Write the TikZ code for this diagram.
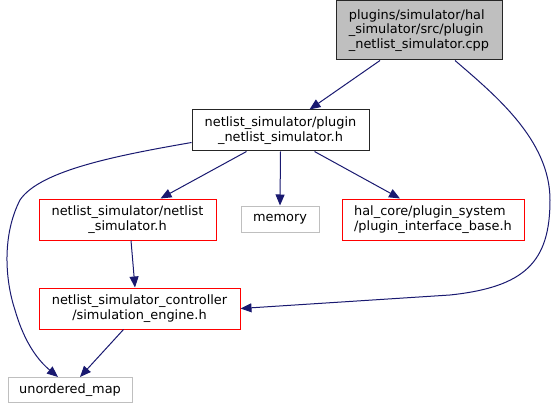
\documentclass[tikz,border=0pt]{standalone}
\usepackage{fontspec}
\setmainfont{DejaVu Sans}
\usetikzlibrary{arrows.meta,calc}
\definecolor{edgeblue}{HTML}{191970}
\definecolor{boxgrey}{HTML}{BFBFBF}
\begin{document}
\begin{tikzpicture}[x=1pt,y=-1pt,
  every node/.style={font=\fontsize{12.9}{14.3}\selectfont, inner sep=0pt, text=black},
  blackbox/.style={draw=black!85, line width=1pt, fill=white},
  redbox/.style={draw=red, line width=1pt, fill=white},
  greybox/.style={draw=boxgrey, line width=1pt, fill=white},
  edge/.style={draw=edgeblue, line width=1pt, -{Triangle[length=11pt,width=9pt]}, color=edgeblue}]
\useasboundingbox (0,0) rectangle (557,409);

\node[blackbox, fill=boxgrey, minimum width=166pt, minimum height=59pt, align=left] (top) at (419,30.5)
  {plugins/simulator/hal\\\_simulator/src/plugin\\\_netlist\_simulator.cpp};
\node[blackbox, minimum width=177pt, minimum height=41pt, align=center] (plug) at (280.5,130.5)
  {netlist\_simulator/plugin\\\_netlist\_simulator.h};
\node[redbox, minimum width=177pt, minimum height=41pt, align=center] (nsim) at (127.5,219.5)
  {netlist\_simulator/netlist\\\_simulator.h};
\node[greybox, minimum width=78pt, minimum height=26pt] (mem) at (280,219) {memory};
\node[redbox, minimum width=182pt, minimum height=41pt, align=left] (hal) at (433,219.5)
  {hal\_core/plugin\_system\\/plugin\_interface\_base.h};
\node[redbox, minimum width=201pt, minimum height=41pt, align=center] (eng) at (139.5,308.5)
  {netlist\_simulator\_controller\\/simulation\_engine.h};
\node[greybox, minimum width=124pt, minimum height=25pt] (umap) at (70,390) {unordered\_map};

\draw[edge] ($(top.south)+(-39,0)$) -- ($(plug.north)+(29,0)$);
\draw[edge] ($(top.south)+(36,0)$) .. controls (495,95) and (550,140) .. (550,200)
  .. controls (550,262) and (525,287) .. (450,295) -- (eng.east);
\draw[edge] ($(plug.west)+(0,12)$) .. controls (120,155) and (40,170) .. (20,200)
  .. controls (2,235) and (5,280) .. (15,310) .. controls (25,345) and (40,362) .. ($(umap.north)+(-12,0)$);
\draw[edge] ($(plug.south)+(-34,0)$) -- ($(nsim.north)+(33,0)$);
\draw[edge] (plug.south) -- (mem.north);
\draw[edge] ($(plug.south)+(34,0)$) -- ($(hal.north)+(-33,0)$);
\draw[edge] ($(nsim.south)+(3.5,0)$) -- ($(eng.north)+(-4.5,0)$);
\draw[edge] ($(eng.south)+(-16,0)$) -- ($(umap.north)+(10,0)$);
\end{tikzpicture}
\end{document}
